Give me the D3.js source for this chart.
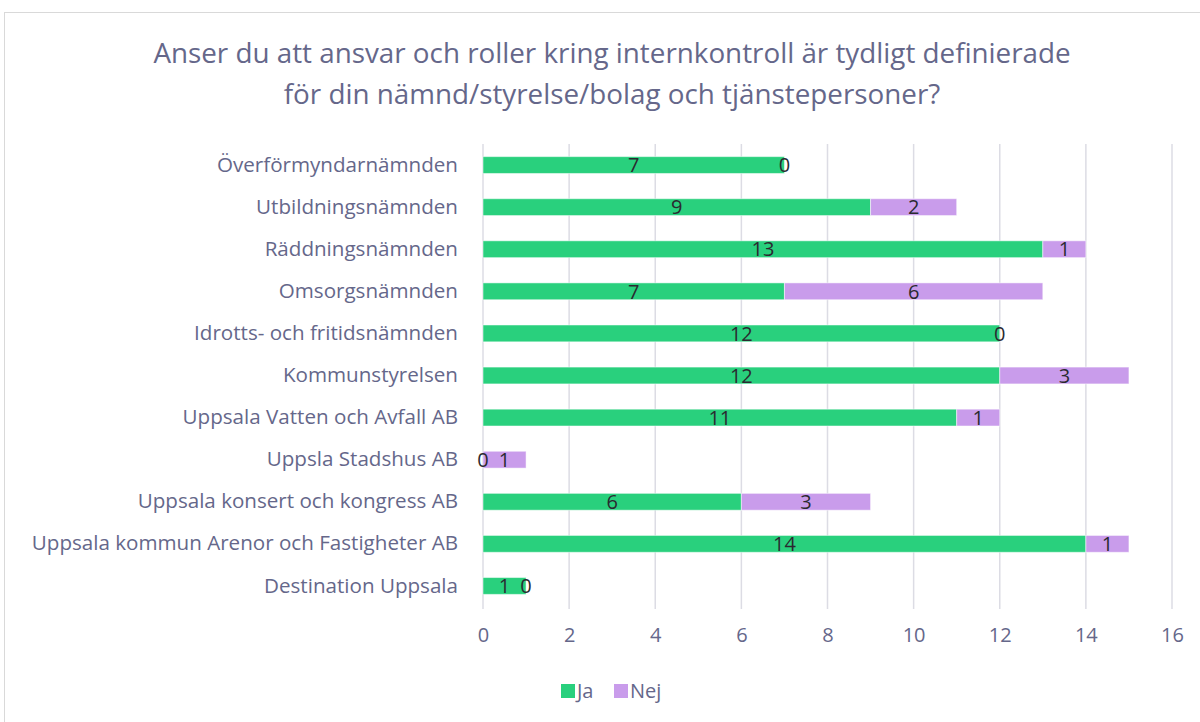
<!DOCTYPE html>
<html><head><meta charset="utf-8">
<script src="https://cdn.jsdelivr.net/npm/d3@7"></script>
<style>
body{margin:0;background:#fff;}
svg{display:block;}
</style></head>
<body><svg id="c" width="1200" height="722"></svg>
<script>
const categories = ["Överförmyndarnämnden","Utbildningsnämnden","Räddningsnämnden","Omsorgsnämnden","Idrotts- och fritidsnämnden","Kommunstyrelsen","Uppsala Vatten och Avfall AB","Uppsla Stadshus AB","Uppsala konsert och kongress AB","Uppsala kommun Arenor och Fastigheter AB","Destination Uppsala"];
const ja  = [7, 9, 13, 7, 12, 12, 11, 0, 6, 14, 1];
const nej = [0, 2, 1, 6, 0, 3, 1, 1, 3, 1, 0];
const seriesNames = ["Ja","Nej"];
const xTicks = [0,2,4,6,8,10,12,14,16];
const titleLines = ["Anser du att ansvar och roller kring internkontroll är tydligt definierade","för din nämnd/styrelse/bolag och tjänstepersoner?"];

const colors = {Ja:"#29d07d", Nej:"#c99ceb"};
const textCol = "#65678a";
const labelFont = "'Open Sans', sans-serif";

const svg = d3.select("#c");
svg.append("rect").attr("x",4.5).attr("y",12.5).attr("width",1200).attr("height",720)
  .attr("fill","#fff").attr("stroke","#d9d9d9").attr("stroke-width",1);

svg.selectAll("text.title").data(titleLines).join("text")
  .attr("x",612).attr("y",(d,i)=>63+i*41)
  .attr("text-anchor","middle").attr("font-family",labelFont).attr("font-size",27.8)
  .attr("fill",textCol).text(d=>d);

const x = d3.scaleLinear().domain([0,16]).range([483,1172]);
const y = d3.scaleBand().domain(categories).range([144,607]).paddingInner(0.6).paddingOuter(0.3);

// gridlines
svg.append("g").selectAll("line").data(xTicks).join("line")
  .attr("x1",d=>x(d)).attr("x2",d=>x(d)).attr("y1",144).attr("y2",609)
  .attr("stroke","#dcdce4").attr("stroke-width",1.5);

// x axis
const xAxis = svg.append("g").attr("transform","translate(0,622)")
  .call(d3.axisBottom(x).tickValues(xTicks).tickSize(0).tickPadding(6));
xAxis.select(".domain").remove();
xAxis.selectAll("text").attr("font-family",labelFont).attr("font-size",20).attr("fill",textCol);

// y axis labels
const yAxis = svg.append("g").attr("transform","translate(458,0)")
  .call(d3.axisLeft(y).tickSize(0).tickPadding(0));
yAxis.select(".domain").remove();
yAxis.selectAll("text").attr("font-family",labelFont).attr("font-size",20.6).attr("fill",textCol);

const rows = categories.map((c,i)=>({cat:c, Ja:ja[i], Nej:nej[i]}));
const stacked = d3.stack().keys(seriesNames)(rows);

const g = svg.append("g");
stacked.forEach(s=>{
  g.append("g").selectAll("rect").data(s).join("rect")
    .attr("x",d=>x(d[0])).attr("y",d=>y(d.data.cat))
    .attr("width",d=>x(d[1])-x(d[0])).attr("height",y.bandwidth())
    .attr("fill",colors[s.key]).attr("stroke","#ffffff").attr("stroke-opacity",0.5).attr("stroke-width",1);
});
stacked.forEach(s=>{
  g.append("g").selectAll("text").data(s).join("text")
    .attr("x",d=>(x(d[0])+x(d[1]))/2).attr("y",d=>y(d.data.cat)+y.bandwidth()/2)
    .attr("dy","0.36em").attr("text-anchor","middle")
    .attr("font-family","'Open Sans', sans-serif").attr("font-size",20).attr("fill","#2a2a30")
    .text(d=>d[1]-d[0]);
});

// legend
const leg = svg.append("g").attr("transform","translate(561,691)");
seriesNames.forEach((k,i)=>{
  const lg = leg.append("g").attr("transform",`translate(${i*53},0)`);
  lg.append("rect").attr("x",0).attr("y",-7).attr("width",14).attr("height",14).attr("fill",colors[k]);
  lg.append("text").attr("x",16).attr("y",0).attr("dy","0.36em")
    .attr("font-family",labelFont).attr("font-size",20).attr("fill",textCol).text(k);
});
</script></body></html>
